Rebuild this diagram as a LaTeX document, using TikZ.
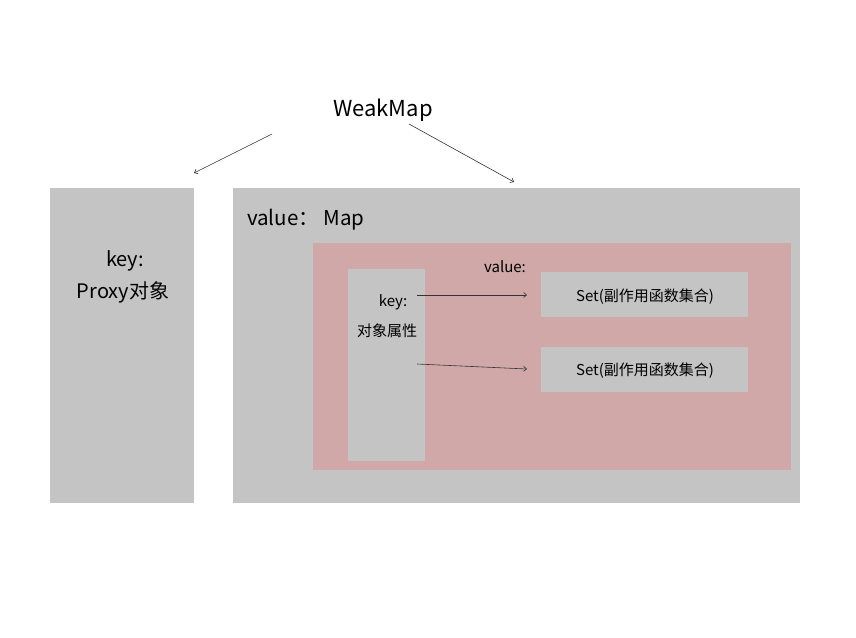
\documentclass[tikz,border=0pt]{standalone}
\usepackage{fontspec}
\setmainfont{Noto Sans CJK SC}
\usetikzlibrary{arrows.meta}
\definecolor{boxgray}{RGB}{196,196,196}
\definecolor{boxpink}{RGB}{208,168,168}
\begin{document}
\begin{tikzpicture}[x=1pt,y=-1pt,
  graybox/.style={fill=boxgray,draw=none,inner sep=0pt,anchor=north west},
  pinkbox/.style={fill=boxpink,draw=none,inner sep=0pt,anchor=north west},
  lbl/.style={inner sep=0pt,text=black},
  conn/.style={-{Straight Barb[length=3pt,width=5pt]},line width=0.6pt,draw=black!80}]
\useasboundingbox (0,0) rectangle (856,637);
\fill[white] (0,0) rectangle (856,637);
% boxes
\node[graybox,minimum width=144pt,minimum height=315pt] (left) at (50,188) {};
\node[graybox,minimum width=567pt,minimum height=315pt] (right) at (233,188) {};
\node[pinkbox,minimum width=478pt,minimum height=227pt] (pink) at (313,243) {};
\node[graybox,minimum width=77pt,minimum height=192pt] (keycol) at (348,269) {};
\node[graybox,minimum width=207pt,minimum height=45pt] (set1) at (541,272) {};
\node[graybox,minimum width=207pt,minimum height=45pt] (set2) at (541,347) {};
% texts
\node[lbl,font=\fontsize{22}{26}\selectfont] (wm) at (383,110) {WeakMap};
\node[lbl,font=\fontsize{20.5}{24}\selectfont,anchor=west] (vm) at (247,220) {value： Map};
\node[lbl,font=\fontsize{20}{24}\selectfont] (k1) at (125,261) {key:};
\node[lbl,font=\fontsize{20}{24}\selectfont] (p1) at (123,292) {Proxy对象};
\node[lbl,font=\fontsize{15}{18}\selectfont] (v2) at (505,267) {value:};
\node[lbl,font=\fontsize{15}{18}\selectfont] (k2) at (393,302) {key:};
\node[lbl,font=\fontsize{15}{18}\selectfont] (ka) at (387,331) {对象属性};
\node[lbl,font=\fontsize{15}{18}\selectfont] (s1t) at (645,297) {Set(副作用函数集合)};
\node[lbl,font=\fontsize{15}{18}\selectfont] (s2t) at (645,371) {Set(副作用函数集合)};
% connector endpoints
\coordinate (a1s) at (272,134);
\coordinate (a1e) at (194,173);
\coordinate (a2s) at (409,124);
\coordinate (a2e) at (514,182);
\coordinate (a3s) at (417,295);
\coordinate (a3e) at (527,295);
\coordinate (a4s) at (417,364);
\coordinate (a4e) at (527,369);
\draw[conn] (a1s) -- (a1e);
\draw[conn] (a2s) -- (a2e);
\draw[conn] (a3s) -- (a3e);
\draw[conn] (a4s) -- (a4e);
\end{tikzpicture}
\end{document}
